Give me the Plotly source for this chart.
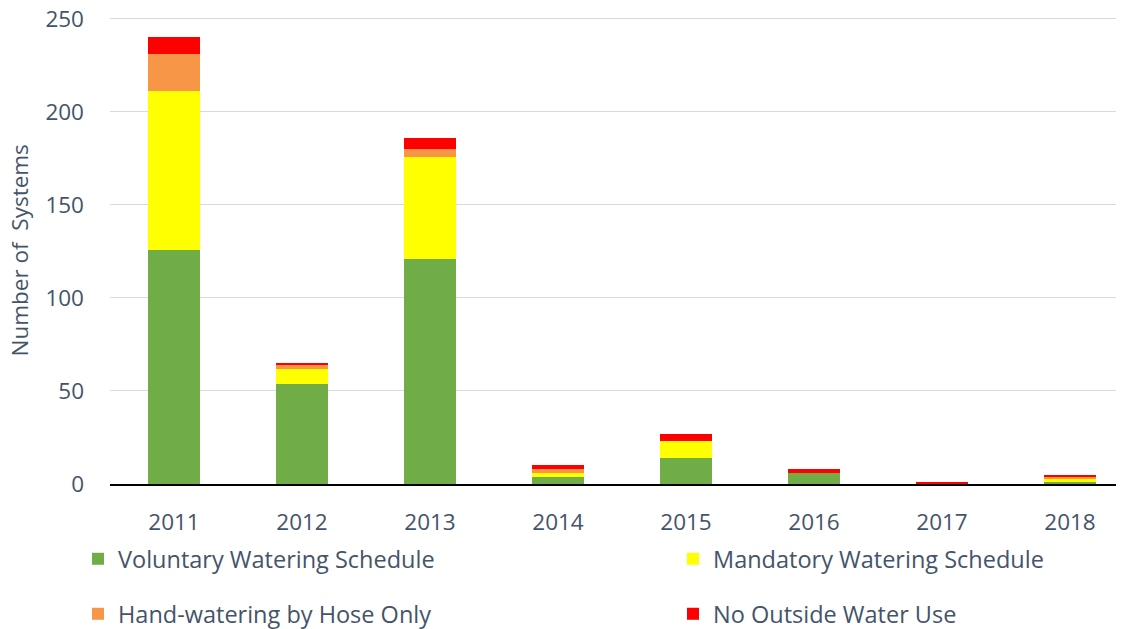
import plotly.graph_objects as go

years = ["2011", "2012", "2013", "2014", "2015", "2016", "2017", "2018"]
voluntary = [126, 54, 121, 4, 14, 6, 0, 1]
mandatory = [85, 8, 55, 2, 9, 0, 0, 2]
hand_hose = [20, 2, 4, 2, 0, 0, 0, 1]
no_outside = [9, 1, 6, 2, 4, 2, 1, 1]
y_title = "Number of  Systems"

series = [
    ("Voluntary Watering Schedule", voluntary, "#70AD47", "legend"),
    ("Mandatory Watering Schedule", mandatory, "#FFFF00", "legend2"),
    ("Hand-watering by Hose Only", hand_hose, "#F79646", "legend3"),
    ("No Outside Water Use", no_outside, "#FF0000", "legend4"),
]

fig = go.Figure()
for name, vals, color, lg in series:
    fig.add_trace(go.Bar(x=years, y=vals, name=name, marker_color=color,
                         marker_line_width=0, width=0.41, legend=lg))

txt = "#44546A"
font_family = "Open Sans, Liberation Sans, sans-serif"


def leg(xpx, ypx):
    return dict(orientation="h", xref="container", yref="container",
                x=xpx / 1124, y=1 - ypx / 629, xanchor="left", yanchor="middle",
                font=dict(size=23.5, color=txt, family=font_family),
                bgcolor="rgba(0,0,0,0)")


fig.update_layout(
    width=1124, height=629,
    margin=dict(l=102, r=14, t=9, b=153, autoexpand=False),
    barmode="stack",
    plot_bgcolor="white", paper_bgcolor="white",
    font=dict(family=font_family, color=txt),
    legend=leg(70, 551),
    legend2=leg(665, 551),
    legend3=leg(70, 606),
    legend4=leg(665, 606),
    showlegend=True,
    annotations=[dict(text=y_title, textangle=-90, xref="paper", yref="paper",
                      x=0, y=0.5, xanchor="center", yanchor="middle",
                      xshift=-91, showarrow=False,
                      font=dict(size=22.5, color=txt, family=font_family))],
)
fig.update_xaxes(range=[-0.5, 7.375], showgrid=False, showline=True,
                 linecolor="black", linewidth=2, ticks="", automargin=False,
                 tickfont=dict(size=22.5, color=txt), ticklabelstandoff=17)
fig.update_yaxes(range=[0, 251], tickvals=[0, 50, 100, 150, 200, 250],
                 showgrid=True, gridcolor="#D9D9D9",
                 gridwidth=1, zeroline=False, showline=False, ticks="",
                 automargin=False, ticklabeloverflow="allow",
                 tickfont=dict(size=22.5, color=txt), ticklabelstandoff=25)

fig.write_html("out.html")
